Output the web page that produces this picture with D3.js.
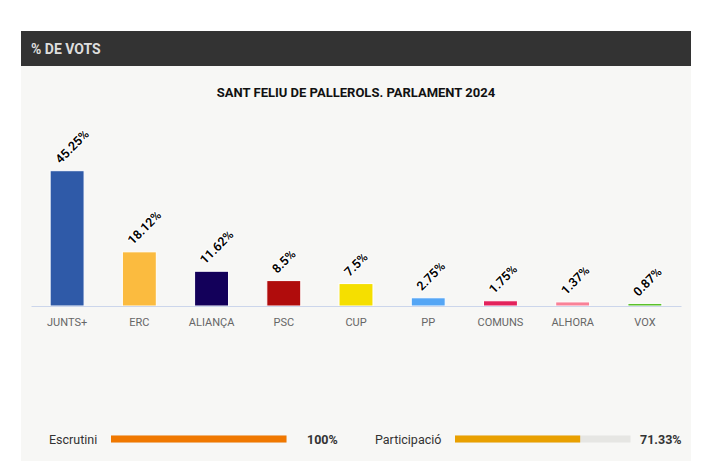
<!DOCTYPE html>
<html><head><meta charset="utf-8">
<script src="https://cdn.jsdelivr.net/npm/d3@7"></script>
<style>
html,body{margin:0;padding:0;background:#fff;}
svg{display:block;font-family:Roboto,"Noto Sans",sans-serif;}
</style></head>
<body>
<svg id="c" width="701" height="461"></svg>
<script>
const headerText = "% DE VOTS";
const chartTitle = "SANT FELIU DE PALLEROLS. PARLAMENT 2024";
const categories = ["JUNTS+","ERC","ALIANÇA","PSC","CUP","PP","COMUNS","ALHORA","VOX"];
const values = [45.25,18.12,11.62,8.5,7.5,2.75,1.75,1.37,0.87];
const barColors = ["#2f5aa8","#fbbb3f","#13005a","#b00c0c","#f5df00","#55a6f5","#e3225c","#f98197","#5ac02a"];
const progressLabels = ["Escrutini","Participació"];
const progressValues = [100,71.33];
const progressColors = ["#f07800","#e9a000"];

const svg = d3.select("#c");
// panel
svg.append("rect").attr("x",21).attr("y",31).attr("width",670).attr("height",430).attr("fill","#f7f7f5");
svg.append("rect").attr("x",21).attr("y",31).attr("width",670).attr("height",35).attr("fill","#333333");
svg.append("text").attr("x",31).attr("y",53.5).attr("fill","#dedede")
  .attr("font-size",14).attr("font-weight","bold").text(headerText);

svg.append("text").attr("x",356).attr("y",96.5).attr("text-anchor","middle")
  .attr("font-size",13).attr("font-weight","bold").attr("fill","#111").text(chartTitle);

const x = d3.scaleBand().domain(categories).range([31,681]).paddingInner(0.53).paddingOuter(0.265);
const y = d3.scaleLinear().domain([0,50]).range([306,156.5]);

const g = svg.append("g");
g.selectAll("rect.bar").data(values).join("rect").attr("class","bar")
  .attr("x",(d,i)=>x(categories[i]))
  .attr("width",x.bandwidth())
  .attr("y",d=>y(d))
  .attr("height",d=>y(0)-y(d))
  .attr("fill",(d,i)=>barColors[i])
  .attr("stroke","#fff").attr("stroke-width",1);

// axis
const xAxis = d3.axisBottom(x).tickSize(0).tickPadding(12);
const ax = svg.append("g").attr("transform","translate(0,306)").call(xAxis);
ax.select(".domain").attr("stroke","#ccd6eb").attr("stroke-width",1);
ax.selectAll("text").attr("font-size",11).attr("fill","#666").attr("font-family","Roboto,sans-serif");

// data labels
g.selectAll("text.lbl").data(values).join("text").attr("class","lbl")
  .attr("transform",(d,i)=>`translate(${x(categories[i])+x.bandwidth()/2-6.5},${y(d)-6.5}) rotate(-45)`)
  .attr("font-size",12.5).attr("font-weight",600).attr("fill","#000")
  .attr("stroke","#fff").attr("stroke-width",2).attr("paint-order","stroke").attr("stroke-linejoin","round")
  .text(d=>d+"%");

// progress bars
const pos = [{lx:49,bx:111,bw:175.5,vx:307},{lx:375,bx:455,bw:175.5,vx:640}];
const pv = d3.scaleLinear().domain([0,100]);
progressLabels.forEach((lab,i)=>{
  const p = pos[i];
  pv.range([p.bx,p.bx+p.bw]);
  svg.append("text").attr("x",p.lx).attr("y",443.5).attr("font-size",12.5).attr("fill","#333").text(lab);
  svg.append("rect").attr("x",p.bx).attr("y",435.5).attr("width",p.bw).attr("height",7).attr("fill","#e6e6e3");
  svg.append("rect").attr("x",p.bx).attr("y",435.5).attr("width",pv(progressValues[i])-p.bx).attr("height",7).attr("fill",progressColors[i]);
  svg.append("text").attr("x",p.vx).attr("y",443.5).attr("font-size",12.5).attr("font-weight","bold").attr("fill","#333").text(progressValues[i]+"%");
});
</script>
</body></html>
